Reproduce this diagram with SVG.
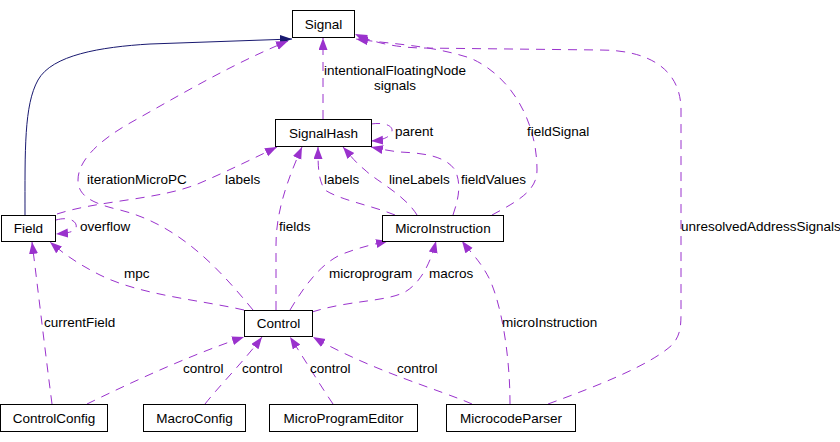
<svg xmlns="http://www.w3.org/2000/svg" width="840" height="442" viewBox="0 0 840 442">
<defs>
<style>
.node rect{fill:#fff;stroke:#000;stroke-width:1}
.node text{font-family:"Liberation Sans",Arial,sans-serif;font-size:13.5px;fill:#000;text-anchor:middle}
.lbl{font-family:"Liberation Sans",Arial,sans-serif;font-size:13.5px;fill:#000}
.e{fill:none;stroke:#9a32cd;stroke-width:1;stroke-dasharray:9,7;marker-end:url(#ap)}
.inh{fill:none;stroke:#191970;stroke-width:1;marker-end:url(#ab)}
</style>
<marker id="ap" markerUnits="userSpaceOnUse" markerWidth="13" markerHeight="10" refX="12" refY="4.5" orient="auto" viewBox="0 0 13 10">
<path d="M0,0 L12,4.5 L0,9 z" fill="#9a32cd" stroke="none"/>
</marker>
<marker id="ab" markerUnits="userSpaceOnUse" markerWidth="13" markerHeight="10" refX="12" refY="4.5" orient="auto" viewBox="0 0 13 10">
<path d="M0,0 L12,4.5 L0,9 z" fill="#191970" stroke="none"/>
</marker>
</defs>
<rect width="840" height="442" fill="#fff"/>
<g id="connectors">
<path class="inh" d="M25,215 C25,150 24,105 38,80 C52,55 100,47 150,44 L292,39"/>
<path class="e" d="M253,310 C220,270 180,225 120,210 C90,203 78,195 78,180 C78,160 100,140 130,123 C180,95 230,65 288,41"/>
<path class="e" d="M57,214 C100,200 160,200 200,183 C230,170 250,160 277,147"/>
<path class="e" d="M56,220 C70,216 78,222 76,228 C74,232 68,233 56,234"/>
<path class="e" d="M244,310 C200,300 140,295 100,275 C80,265 65,255 50,242"/>
<path class="e" d="M52,404 C45,350 38,290 32,242"/>
<path class="e" d="M87,404 C130,383 190,355 244,337"/>
<path class="e" d="M205,404 C220,385 245,360 262,337"/>
<path class="e" d="M333,404 C320,385 305,360 290,337"/>
<path class="e" d="M472,404 C440,390 370,370 313,337"/>
<path class="e" d="M510,404 C510,360 503,310 490,280 C480,260 470,252 462,241"/>
<path class="e" d="M548,404 C600,385 650,365 672,345 C681,335 681,325 681,310 L681,110 C681,70 650,50 600,50 L420,48 C390,47 370,41 355,34"/>
<path class="e" d="M492,215 C520,200 537,190 537,170 C537,120 510,75 470,58 C430,45 390,44 356,39"/>
<path class="e" d="M323,119 L323,38"/>
<path class="e" d="M371,124 C385,122 393,126 392,131 C391,136 385,140 371,141"/>
<path class="e" d="M395,215 C370,205 340,200 325,190 C318,180 318,165 318,147"/>
<path class="e" d="M417,215 C405,195 375,180 365,170 C355,162 350,155 343,147"/>
<path class="e" d="M453,215 C458,200 462,185 455,170 C445,155 420,153 400,152 C390,151 380,149 371,147"/>
<path class="e" d="M276,310 L276,245 C276,215 285,185 302,147"/>
<path class="e" d="M290,310 C305,285 320,265 340,255 C360,247 375,244 388,241"/>
<path class="e" d="M312,312 C350,300 385,302 405,292 C420,283 430,265 436,241"/>
</g>
<g id="labels">
<text class="lbl" x="395" y="75" text-anchor="middle">intentionalFloatingNode</text>
<text class="lbl" x="395" y="90" text-anchor="middle">signals</text>
<text class="lbl" x="395" y="136">parent</text>
<text class="lbl" x="527" y="136">fieldSignal</text>
<text class="lbl" x="87" y="184">iterationMicroPC</text>
<text class="lbl" x="225" y="184">labels</text>
<text class="lbl" x="324" y="184">labels</text>
<text class="lbl" x="389" y="184">lineLabels</text>
<text class="lbl" x="461" y="184">fieldValues</text>
<text class="lbl" x="80" y="231">overflow</text>
<text class="lbl" x="279" y="231">fields</text>
<text class="lbl" x="681" y="231">unresolvedAddressSignals</text>
<text class="lbl" x="124" y="278">mpc</text>
<text class="lbl" x="329" y="278">microprogram</text>
<text class="lbl" x="429" y="278">macros</text>
<text class="lbl" x="44" y="327">currentField</text>
<text class="lbl" x="502" y="327">microInstruction</text>
<text class="lbl" x="183" y="373">control</text>
<text class="lbl" x="242" y="373">control</text>
<text class="lbl" x="310" y="373">control</text>
<text class="lbl" x="397" y="373">control</text>
</g>
<g id="Signal" class="node"><rect x="292.5" y="10.5" width="62" height="27"/><text x="323.5" y="29">Signal</text></g>
<g id="SignalHash" class="node"><rect x="275.5" y="119.5" width="96" height="27"/><text x="323.5" y="138">SignalHash</text></g>
<g id="Field" class="node"><rect x="1.5" y="215.5" width="54" height="26"/><text x="28.5" y="233">Field</text></g>
<g id="MicroInstruction" class="node"><rect x="382.5" y="215.5" width="121" height="26"/><text x="443" y="233">MicroInstruction</text></g>
<g id="Control" class="node"><rect x="244.5" y="310.5" width="68" height="26"/><text x="278.5" y="328">Control</text></g>
<g id="ControlConfig" class="node"><rect x="0.5" y="404.5" width="107" height="27"/><text x="54" y="423">ControlConfig</text></g>
<g id="MacroConfig" class="node"><rect x="143.5" y="404.5" width="102" height="27"/><text x="194.5" y="423">MacroConfig</text></g>
<g id="MicroProgramEditor" class="node"><rect x="269.5" y="404.5" width="148" height="27"/><text x="343.5" y="423">MicroProgramEditor</text></g>
<g id="MicrocodeParser" class="node"><rect x="446.5" y="404.5" width="129" height="27"/><text x="511" y="423">MicrocodeParser</text></g>
</svg>
